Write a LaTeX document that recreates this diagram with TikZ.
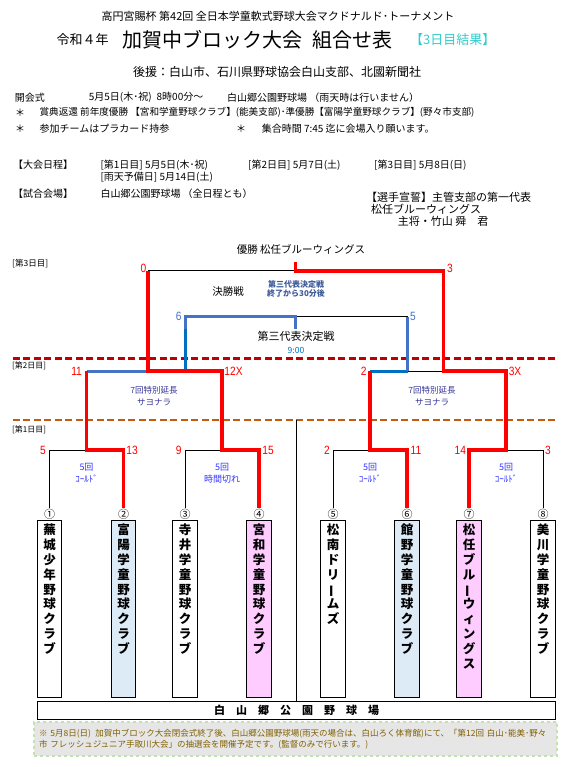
\documentclass[tikz,border=0pt]{standalone}
\usepackage{fontspec}
\setmainfont{Noto Sans CJK JP}
\newfontfamily\numfont[FakeStretch=0.85]{Liberation Sans}
\usetikzlibrary{positioning}
\newcommand{\fsz}[1]{\fontsize{#1}{#1}\selectfont}
\newcommand{\tbar}{\rotatebox[origin=c]{90}{ー}}
\definecolor{winred}{HTML}{FF0000}
\definecolor{lossblue}{HTML}{4472C4}
\definecolor{lossblue2}{HTML}{0070C0}
\definecolor{daytwo}{HTML}{C00000}
\definecolor{dayone}{HTML}{C55A11}
\definecolor{rescyan}{HTML}{33CCCC}
\definecolor{gamenote}{HTML}{3333FF}
\definecolor{semnote}{HTML}{333399}
\definecolor{finnote}{HTML}{3D5A99}
\definecolor{boxblue}{HTML}{DDEBF7}
\definecolor{boxpink}{HTML}{FFCCFF}
\definecolor{notefill}{HTML}{E7E6E6}
\definecolor{notegreen}{HTML}{C5E0B4}
\definecolor{notetext}{HTML}{7F6000}
\tikzset{
  thinln/.style ={draw=black, line width=0.7pt},
  winln/.style  ={draw=winred, line width=3.6pt, line join=miter},
  lossln/.style ={draw=lossblue, line width=3pt, line join=miter},
  dayln/.style  ={line width=2.6pt, dash pattern=on 7pt off 3.5pt},
  score/.style  ={font=\numfont\fsz{12}, text=winred, inner sep=0pt},
  lossscore/.style={score, text=lossblue},
  txt/.style    ={anchor=west, inner sep=0pt, font=\fsz{10}},
  daylbl/.style ={anchor=west, inner sep=0pt, font=\fsz{8}},
  gnote/.style  ={align=center, inner sep=0pt, text=gamenote, font=\fontsize{9}{12}\selectfont},
  snote/.style  ={align=center, inner sep=0pt, text=semnote, font=\fontsize{8.5}{11.7}\selectfont},
  numc/.style   ={inner sep=0.5pt, font=\fsz{11}},
  teambox/.style={draw, line width=0.8pt, anchor=north, minimum width=24.5pt,
                  minimum height=177pt, inner sep=0pt},
  teamname/.style={anchor=north, yshift=-4pt, align=center, inner sep=0pt,
                  font=\fontsize{12.5}{14.8}\selectfont\bfseries},
}

\begin{document}
\begin{tikzpicture}[x=1pt, y=-1pt]
  \useasboundingbox (0,0) rectangle (572,767);

  \node[inner sep=0pt, font=\fsz{11}] (h1) at (278,16) {高円宮賜杯 第42回 全日本学童軟式野球大会マクドナルド･トーナメント};
  \node[txt, font=\fsz{13}] (h2a) at (56.5,40) {令和４年};
  \node[txt, font=\fsz{20}] (h2b) at (122,39.5) {加賀中ブロック大会\enspace 組合せ表};
  \node[txt, font=\fsz{13}, text=rescyan] (h2c) at (410,40) {【3日目結果】};
  \node[inner sep=0pt, font=\fsz{12}] (h3) at (277,72) {後援：白山市、石川県野球協会白山支部、北國新聞社};

  \node[txt] (open) at (14.6,97.3) {開会式};
  \node[txt] (opdate) at (88.6,97.3) {5月5日(木･祝)\enspace 8時00分～};
  \node[txt] (opvenue) at (227,97.3) {白山郷公園野球場 （雨天時は行いません）};
  \node[txt] (st1) at (15,112.7) {＊};
  \node[txt, font=\fsz{9.6}] (prize) at (39.4,112.7) {賞典返還 前年度優勝 【宮和学童野球クラブ】(能美支部)･準優勝【富陽学童野球クラブ】(野々市支部)};
  \node[txt] (st2) at (15,129) {＊};
  \node[txt] (card) at (39.4,129) {参加チームはプラカード持参};
  \node[txt] (st3) at (236,129) {＊};
  \node[txt] (meet) at (261.6,129) {集合時間 7:45 迄に会場入り願います。};

  \node[txt] (sched) at (13,165) {【大会日程】};
  \node[txt] (d1) at (100.3,165) {[第1日目] 5月5日(木･祝)};
  \node[txt] (d2) at (248,165) {[第2日目] 5月7日(土)};
  \node[txt] (d3) at (374,165) {[第3日目] 5月8日(日)};
  \node[txt] (drain) at (100.3,177.7) {[雨天予備日] 5月14日(土)};
  \node[txt] (site) at (13,193.3) {【試合会場】};
  \node[txt] (sitename) at (100.3,193.3) {白山郷公園野球場 （全日程とも）};
  \node[txt, font=\fsz{11}] (oath) at (366,197.3) {【選手宣誓】主管支部の第一代表};
  \node[txt, font=\fsz{11}] (oathteam) at (371,209.3) {松任ブルーウィングス};
  \node[txt, font=\fsz{11}] (oathname) at (397.7,221.7) {主将・竹山 舜　君};

  \node[inner sep=0pt, font=\fsz{10.5}] (champ) at (301,249.3) {優勝 松任ブルーウィングス};
  \node[daylbl, font=\fsz{8.5}] (day3) at (12,264) {[第3日目]};
  \node[daylbl] (day2) at (12,365.5) {[第2日目]};
  \node[daylbl] (day1) at (12,429.5) {[第1日目]};

  \draw[dayln, draw=daytwo] (12.8,358.3) -- (556.4,358.3);
  \draw[dayln, draw=dayone] (12.8,420) -- (556.4,420);

  \foreach \i/\x/\fc/\c/\nm in {
      1/49.5/white/①/{蕪\\城\\少\\年\\野\\球\\ク\\ラ\\ブ},
      2/123.5/boxblue/②/{富\\陽\\学\\童\\野\\球\\ク\\ラ\\ブ},
      3/185/white/③/{寺\\井\\学\\童\\野\\球\\ク\\ラ\\ブ},
      4/259/boxpink/④/{宮\\和\\学\\童\\野\\球\\ク\\ラ\\ブ},
      5/333/white/⑤/{松\\南\\ド\\リ\\\tbar\\ム\\ズ},
      6/407/boxblue/⑥/{館\\野\\学\\童\\野\\球\\ク\\ラ\\ブ},
      7/469/boxpink/⑦/{松\\任\\ブ\\ル\\\tbar\\ウ\\ィ\\ン\\グ\\ス},
      8/543/white/⑧/{美\\川\\学\\童\\野\\球\\ク\\ラ\\ブ}}{
    \node[numc] (n\i) at (\x,514) {\c};
    \node[teambox, fill=\fc] (t\i) at (\x,520) {};
    \node[teamname] (tn\i) at (t\i.north) {\nm};
  }

  \node[draw, line width=1.2pt, minimum width=518pt, minimum height=18.5pt, inner sep=0pt,
        font=\fsz{11}\bfseries] (venue) at (296.5,710.5)
        {白\hspace{11pt}山\hspace{11pt}郷\hspace{11pt}公\hspace{11pt}園\hspace{11pt}野\hspace{11pt}球\hspace{11pt}場};
  \node[draw=notegreen, fill=notefill, dashed, line width=1.5pt, minimum width=523pt,
        minimum height=34pt, text width=513pt, align=left, inner sep=0pt, text=notetext,
        font=\fontsize{8.5}{11}\selectfont] (note) at (295.5,739)
        {※ 5月8日(日)\enspace 加賀中ブロック大会閉会式終了後、白山郷公園野球場(雨天の場合は、白山ろく体育館)にて、「第12回 白山･能美･野々\\市 フレッシュジュニア手取川大会」の抽選会を開催予定です。(監督のみで行います。)};

  \coordinate (r1a) at (86.5,450);
  \coordinate (r1b) at (222,450);
  \coordinate (r1c) at (370,450);
  \coordinate (r1d) at (506,450);
  \coordinate (sfa) at (147.8,371);
  \coordinate (sfb) at (443.3,371);
  \coordinate (fin) at (295.5,270.7);
  \coordinate (fintop) at (295.5,261.7);
  \coordinate (thp) at (295.5,316.7);
  \coordinate (thpbot) at (295.5,329.3);
  \coordinate (tpl) at (185,316.7);
  \coordinate (tpr) at (407.5,316.7);
  \coordinate (div) at (296,420);

  \draw[thinln] (div) -- (div |- venue.north);
  \draw[thinln] (n1.north) |- (r1a);
  \draw[thinln] (n3.north) |- (r1b);
  \draw[thinln] (n5.north) |- (r1c);
  \draw[thinln] (n8.north) |- (r1d);
  \draw[thinln] (sfa |- fin) -- (fin);
  \draw[thinln] (thp) -- (tpr);
  \draw[thinln] (tpr |- sfb) -- (sfb);

  \draw[lossln] (r1a |- sfa) -- (tpl |- sfa);
  \draw[lossln, draw=lossblue2] (tpl |- sfa) -- (tpl |- thpbot);
  \draw[lossln] (tpl |- thpbot) -- (tpl) -- (thp) -- (thpbot);
  \draw[lossln, draw=lossblue2] (r1c |- sfb) -- (tpr |- sfb);
  \draw[lossln] (tpr |- sfb) -- (tpr);

  \draw[winln] (n2.north) |- (r1a) -- (r1a |- sfa);
  \draw[winln] (n4.north) |- (r1b) |- (sfa) -- (sfa |- fin);
  \draw[winln] (n6.north) |- (r1c) -- (r1c |- sfb);
  \draw[winln] (n7.north) |- (r1d) |- (sfb) -- (sfb |- fin) -- (fin) -- (fintop);

  \node[score] (s1) at (43,450) {5};
  \node[score] (s2) at (132,450) {13};
  \node[score] (s3) at (178.8,450) {9};
  \node[score] (s4) at (268,450) {15};
  \node[score] (s5) at (327,450) {2};
  \node[score] (s6) at (416,450) {11};
  \node[score] (s7) at (460.4,450) {14};
  \node[score] (s8) at (548,450) {3};
  \node[score] (sf1) at (76.6,371.5) {11};
  \node[score] (sf2) at (233.5,371.5) {12X};
  \node[score] (sf3) at (363.7,371.5) {2};
  \node[score] (sf4) at (515,371.5) {3X};
  \node[lossscore] (tp1) at (178.8,316) {6};
  \node[lossscore] (tp2) at (413,316) {5};
  \node[score] (fn1) at (143.4,268) {0};
  \node[score] (fn2) at (450,268) {3};

  \node[gnote] (g1) at (86.5,473.3) {5回\\ｺｰﾙﾄﾞ};
  \node[gnote] (g2) at (222,473.3) {5回\\時間切れ};
  \node[gnote] (g3) at (370,473.3) {5回\\ｺｰﾙﾄﾞ};
  \node[gnote] (g4) at (506,473.3) {5回\\ｺｰﾙﾄﾞ};
  \node[snote] (e1) at (154,396) {7回特別延長\\サヨナラ};
  \node[snote] (e2) at (432,396) {7回特別延長\\サヨナラ};

  \node[inner sep=0pt, font=\fsz{10.5}] (finname) at (228,291.7) {決勝戦};
  \node[align=center, inner sep=0pt, text=finnote, font=\fontsize{8}{9.3}\selectfont\bfseries] (fintime) at (296,289.3) {第三代表決定戦\\終了から30分後};
  \node[inner sep=0pt, font=\fsz{11}] (tpname) at (296,336.7) {第三代表決定戦};
  \node[inner sep=0pt, text=lossblue2, font=\fsz{8.5}] (tptime) at (296,350.7) {9:00};
\end{tikzpicture}
\end{document}
